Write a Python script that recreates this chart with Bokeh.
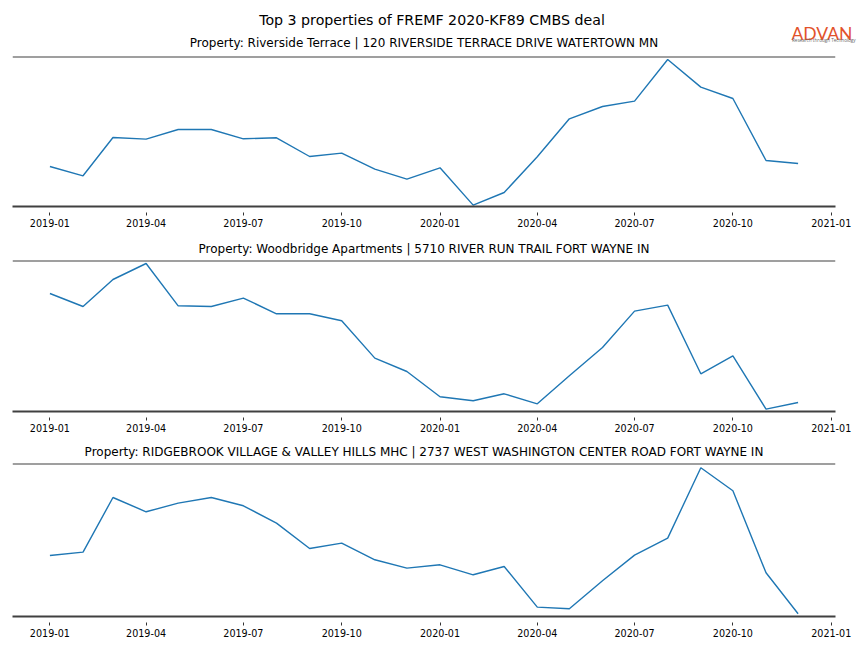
import pandas as pd
from bokeh.plotting import figure
from bokeh.layouts import column
from bokeh.models import Range1d, FixedTicker, DatetimeTickFormatter, Span
from bokeh.core.properties import value
from bokeh.embed import file_html
from bokeh.resources import INLINE

# ---------------- data ----------------
suptitle = "Top 3 properties of FREMF 2020-KF89 CMBS deal"
logo_name = "ADVAN"
logo_tagline = "Research through Technology"

months = ["2019-01", "2019-02", "2019-03", "2019-04", "2019-05", "2019-06",
          "2019-07", "2019-08", "2019-09", "2019-10", "2019-11", "2019-12",
          "2020-01", "2020-02", "2020-03", "2020-04", "2020-05", "2020-06",
          "2020-07", "2020-08", "2020-09", "2020-10", "2020-11", "2020-12"]

titles = [
    "Property: Riverside Terrace | 120 RIVERSIDE TERRACE DRIVE WATERTOWN MN",
    "Property: Woodbridge Apartments | 5710 RIVER RUN TRAIL FORT WAYNE IN",
    "Property: RIDGEBROOK VILLAGE & VALLEY HILLS MHC | 2737 WEST WASHINGTON CENTER ROAD FORT WAYNE IN",
]

riverside = [40.0, 30.7, 69.0, 67.4, 77.0, 77.0, 67.7, 68.7, 50.0, 53.4, 37.4, 27.4,
             38.7, 1.4, 14.0, 49.7, 87.7, 100.0, 105.4, 147.0, 119.4, 108.0, 46.0, 43.0]
woodbridge = [118.0, 105.0, 132.0, 148.0, 105.7, 105.0, 113.4, 97.7, 97.7, 90.7, 53.4, 40.0,
              14.7, 10.7, 17.7, 7.7, 35.7, 64.0, 100.4, 106.4, 37.7, 55.7, 2.4, 9.0]
ridgebrook = [61.0, 64.4, 119.0, 104.7, 113.4, 119.0, 110.7, 93.4, 68.0, 73.4, 56.7, 48.4,
              51.7, 41.7, 50.0, 9.4, 7.7, 35.7, 61.4, 78.4, 148.7, 125.7, 43.7, 2.7]
series = [riverside, woodbridge, ridgebrook]
y_tops = [150.0, 151.0, 153.0]

tick_labels = ["2019-01", "2019-04", "2019-07", "2019-10", "2020-01",
               "2020-04", "2020-07", "2020-10", "2021-01"]

# ---------------- styling / layout ----------------
FONT = "DejaVu Sans"
LINE_COLOR = "#1f77b4"
SPINE_COLOR = "#404040"
W = 864
FRAME_L, FRAME_R = 12, 835
HEADER_H = 53
SUB_SIZE = "12px"

dates = pd.to_datetime(months)
pad = pd.Timedelta(days=35)
x_start = dates[0] - pad
x_end = dates[-1] + pad
tick_ms = [pd.Timestamp(t + "-01").value // 10**6 for t in tick_labels]

# ---- header: suptitle, logo and first panel title (pixel-unit canvas) ----
header = figure(width=W, height=HEADER_H, x_range=Range1d(0, W),
                y_range=Range1d(HEADER_H, 0), min_border=0,
                x_axis_location=None, y_axis_location=None,
                toolbar_location=None, output_backend="svg")
header.frame_align = False
header.outline_line_color = None
header.xgrid.visible = False
header.ygrid.visible = False
header.text(x=[431.5], y=[19.5], text=[suptitle], text_align="center",
            text_baseline="middle", text_font=value(FONT),
            text_font_size=value("14.2px"), text_color="#000000")
header.text(x=[(FRAME_L + FRAME_R) / 2], y=[42], text=[titles[0]], text_align="center",
            text_baseline="middle", text_font=value(FONT),
            text_font_size=value(SUB_SIZE), text_color="#000000")
header.text(x=[791], y=[32.5], text=[logo_name], text_align="left",
            text_baseline="alphabetic", text_font=value("Lato"),
            text_font_size=value("17.5px"), text_color="#E2522B")
header.text(x=[791.5], y=[39.5], text=[logo_tagline], text_align="left",
            text_baseline="alphabetic", text_font=value("Open Sans"),
            text_font_size=value("4.6px"), text_color="#666666")

layout_specs = [
    dict(height=179, top=3, bottom=26),
    dict(height=203, top=28, bottom=24),
    dict(height=205, top=28, bottom=24),
]

figs = [header]
for i, (title, vals, ytop, spec) in enumerate(zip(titles, series, y_tops, layout_specs)):
    p = figure(width=W, height=spec["height"], x_axis_type="datetime",
               x_range=Range1d(x_start, x_end), y_range=Range1d(0, ytop),
               min_border_left=FRAME_L, min_border_right=W - FRAME_R,
               min_border_top=spec["top"], min_border_bottom=spec["bottom"],
               y_axis_location=None, toolbar_location=None, output_backend="svg")
    if i > 0:
        p.title.text = title
        p.title.align = "center"
        p.title.text_font = FONT
        p.title.text_font_size = SUB_SIZE
        p.title.text_font_style = "normal"
        p.title.text_color = "#000000"
        p.title.standoff = 10
    p.outline_line_color = None
    p.xgrid.visible = False
    p.ygrid.visible = False

    ax = p.xaxis[0]
    ax.ticker = FixedTicker(ticks=tick_ms)
    ax.formatter = DatetimeTickFormatter(years="%Y-%m", months="%Y-%m", days="%Y-%m",
                                         hours="%Y-%m", minutes="%Y-%m")
    ax.axis_line_color = SPINE_COLOR
    ax.axis_line_width = 1.8
    ax.major_tick_in = -6
    ax.major_tick_out = 9
    ax.major_tick_line_color = "#333333"
    ax.major_tick_line_width = 1
    ax.minor_tick_line_color = None
    ax.major_label_standoff = 3
    ax.major_label_text_font = FONT
    ax.major_label_text_font_size = "9.6px"
    ax.major_label_text_color = "#000000"

    p.add_layout(Span(location=ytop, dimension="width", line_color=SPINE_COLOR,
                      line_width=1.8))

    p.line(x=dates, y=vals, line_color=LINE_COLOR, line_width=1.4)
    figs.append(p)

page = column(*figs, spacing=0)
open("out.html", "w").write(file_html(page, INLINE))
